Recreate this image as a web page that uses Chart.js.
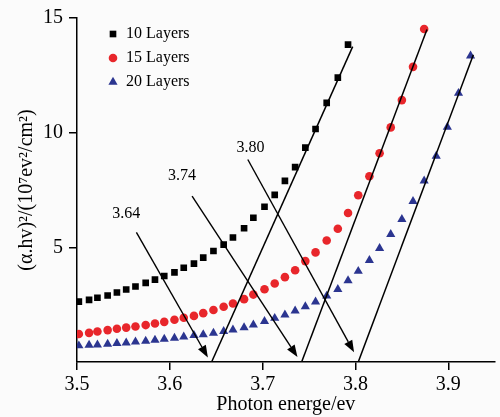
<!DOCTYPE html>
<html>
<head>
<meta charset="utf-8">
<script src="https://cdn.jsdelivr.net/npm/chart.js@4.4.0/dist/chart.umd.min.js"></script>
<style>
  html, body { margin: 0; padding: 0; background: #fbfbfb; }
  #wrap { width: 500px; height: 417px; }
</style>
</head>
<body>
<div id="wrap"><canvas id="gapChart"></canvas></div>
<script>
// photon energy of each measured point (eV), shared by all three samples
const energy = [3.502, 3.513, 3.522, 3.533, 3.543, 3.553, 3.563, 3.574, 3.584, 3.594,
  3.605, 3.615, 3.626, 3.636, 3.647, 3.658, 3.668, 3.680, 3.690, 3.702,
  3.713, 3.724, 3.735, 3.746, 3.757, 3.769, 3.781, 3.792, 3.803, 3.815,
  3.826, 3.838, 3.850, 3.862, 3.874, 3.887, 3.899, 3.911, 3.924];

// (alpha.hv)^2 in 10^7 eV^2/cm^2
const layers10 = [2.63, 2.71, 2.80, 2.90, 3.03, 3.16, 3.29, 3.45, 3.59, 3.75,
  3.91, 4.11, 4.29, 4.55, 4.84, 5.12, 5.43, 5.83, 6.29, 6.77,
  7.29, 7.90, 8.50, 9.35, 10.16, 11.30, 12.40, 13.84];
const layers15 = [1.22, 1.27, 1.33, 1.39, 1.45, 1.50, 1.55, 1.61, 1.68, 1.75,
  1.84, 1.93, 2.01, 2.13, 2.27, 2.41, 2.55, 2.74, 2.94, 3.17,
  3.42, 3.70, 4.00, 4.40, 4.78, 5.30, 5.81, 6.50, 7.27, 8.10,
  9.10, 10.23, 11.42, 12.87, 14.52];
const layers20 = [0.71, 0.74, 0.75, 0.78, 0.81, 0.84, 0.88, 0.91, 0.96, 1.00,
  1.04, 1.10, 1.16, 1.20, 1.26, 1.34, 1.40, 1.50, 1.62, 1.77,
  1.91, 2.06, 2.23, 2.42, 2.62, 2.88, 3.17, 3.55, 3.96, 4.43,
  4.96, 5.57, 6.22, 7.01, 7.90, 8.98, 10.24, 11.72, 13.35];

const seriesNames = ['10 Layers', '15 Layers', '20 Layers'];

// linear fits (start at the x-intercept)
const fit10X = [3.645, 3.797], fit10Y = [0, 13.75];
const fit15X = [3.742, 3.877], fit15Y = [0, 14.5];
const fit20X = [3.803, 3.927], fit20Y = [0, 13.4];

// band gap annotations
const gapLabels = ['3.64', '3.74', '3.80'];
const labelX = [3.553, 3.613, 3.687];
const labelY = [6.45, 8.10, 9.32];
const arrowFromX = [3.564, 3.624, 3.684];
const arrowFromY = [5.65, 7.23, 8.83];
const arrowToX = [3.641, 3.7375, 3.7985];
const arrowToY = [0.20, 0.22, 0.42];

const xTicks = [3.5, 3.6, 3.7, 3.8, 3.9];
const yTicks = [5, 10, 15];

const serif = '"Liberation Serif", "Times New Roman", serif';
const colors = ['#000000', '#e8262b', '#2b3590'];
const styles = ['rect', 'circle', 'triangle'];
const radii = [4.7, 4.3, 5.3];

const toPoints = (xs, ys) => ys.map((v, i) => ({ x: xs[i], y: v }));

const markerSets = [layers10, layers15, layers20].map((vals, i) => ({
  label: seriesNames[i],
  data: toPoints(energy, vals),
  pointStyle: styles[i],
  pointRadius: radii[i],
  pointBackgroundColor: colors[i],
  pointBorderWidth: 0,
  showLine: false,
}));

const fitSets = [[fit10X, fit10Y], [fit15X, fit15Y], [fit20X, fit20Y]].map(([fx, fy]) => ({
  data: toPoints(fx, fy),
  showLine: true,
  borderColor: '#000',
  borderWidth: 1.5,
  pointRadius: 0,
}));

const background = {
  id: 'background',
  beforeDraw(chart) {
    const ctx = chart.ctx;
    ctx.save();
    ctx.fillStyle = '#fbfbfb';
    ctx.fillRect(0, 0, chart.width, chart.height);
    ctx.restore();
  },
};

const annotate = {
  id: 'annotate',
  afterDatasetsDraw(chart) {
    const { ctx, scales: { x, y }, chartArea } = chart;
    ctx.save();
    ctx.strokeStyle = '#000';
    ctx.fillStyle = '#000';
    ctx.lineWidth = 1.4;
    gapLabels.forEach((txt, i) => {
      const x0 = x.getPixelForValue(arrowFromX[i]);
      const y0 = y.getPixelForValue(arrowFromY[i]);
      const x1 = x.getPixelForValue(arrowToX[i]);
      const y1 = y.getPixelForValue(arrowToY[i]);
      const a = Math.atan2(y1 - y0, x1 - x0);
      const head = 12, half = 4.5;
      const bx = x1 - head * Math.cos(a), by = y1 - head * Math.sin(a);
      ctx.beginPath();
      ctx.moveTo(x0, y0);
      ctx.lineTo(bx, by);
      ctx.stroke();
      ctx.beginPath();
      ctx.moveTo(x1, y1);
      ctx.lineTo(bx - half * Math.sin(a), by + half * Math.cos(a));
      ctx.lineTo(bx + half * Math.sin(a), by - half * Math.cos(a));
      ctx.closePath();
      ctx.fill();
      ctx.font = '16px ' + serif;
      ctx.textAlign = 'center';
      ctx.textBaseline = 'middle';
      ctx.fillText(txt, x.getPixelForValue(labelX[i]), y.getPixelForValue(labelY[i]));
    });

    // legend inside the plot
    seriesNames.forEach((name, i) => {
      const ly = chartArea.top + 16 + i * 24;
      const lx = chartArea.left + 36;
      ctx.fillStyle = colors[i];
      Chart.helpers.drawPoint(ctx, { pointStyle: styles[i], radius: radii[i], rotation: 0, borderWidth: 0 }, lx, ly);
      ctx.fillStyle = '#000';
      ctx.font = '16px ' + serif;
      ctx.textAlign = 'left';
      ctx.textBaseline = 'middle';
      ctx.fillText(name, lx + 13, ly);
    });
    ctx.restore();
  },
};

new Chart(document.getElementById('gapChart'), {
  type: 'scatter',
  data: { datasets: [...fitSets, ...markerSets] },
  options: {
    responsive: true,
    maintainAspectRatio: false,
    animation: false,
    layout: { padding: { top: 18, right: 0, bottom: 0, left: 0 } },
    plugins: { legend: { display: false }, tooltip: { enabled: false } },
    scales: {
      x: {
        type: 'linear',
        min: 3.5,
        max: 3.95,
        afterBuildTicks: (s) => { s.ticks = xTicks.map((v) => ({ value: v })); },
        afterFit: (s) => { s.height = 55; },
        ticks: {
          callback: (v) => v.toFixed(1),
          color: '#000',
          padding: 3,
          font: { family: serif, size: 20 },
        },
        grid: { drawOnChartArea: false, tickLength: 8, color: '#000', lineWidth: 1.5 },
        border: { color: '#000', width: 1.5 },
        title: {
          display: true,
          text: 'Photon energe/ev',
          color: '#000',
          padding: { top: 0, bottom: 0 },
          font: { family: serif, size: 20 },
        },
      },
      y: {
        min: 0,
        max: 15,
        afterBuildTicks: (s) => { s.ticks = yTicks.map((v) => ({ value: v })); },
        afterFit: (s) => { s.width = 77; },
        ticks: {
          color: '#000',
          padding: 6,
          font: { family: serif, size: 20 },
        },
        grid: { drawOnChartArea: false, tickLength: 8, color: '#000', lineWidth: 1.5 },
        border: { color: '#000', width: 1.5 },
        title: {
          display: true,
          text: '(α.hv)²/(10⁷ev²/cm²)',
          color: '#000',
          padding: { top: 15, bottom: 0 },
          font: { family: serif, size: 20 },
        },
      },
    },
  },
  plugins: [background, annotate],
});
</script>
</body>
</html>
